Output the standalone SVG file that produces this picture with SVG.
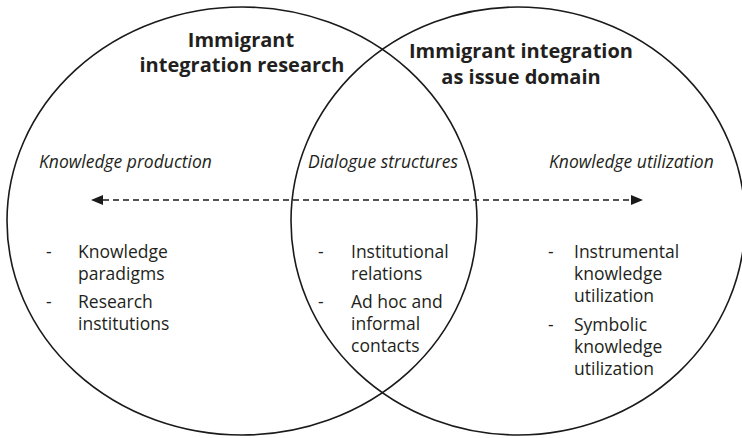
<svg xmlns="http://www.w3.org/2000/svg" width="742" height="438" viewBox="0 0 742 438">
<style>
.ring{fill:none;stroke:#1a1a1a;stroke-width:1.6}
.title{font-family:"Open Sans","Liberation Sans",sans-serif;font-weight:bold;font-size:20px;fill:#231f20;text-anchor:middle}
.lab{font-family:"Open Sans","Liberation Sans",sans-serif;font-style:italic;font-size:17.5px;fill:#231f20}
.item{font-family:"Open Sans","Liberation Sans",sans-serif;font-size:17.5px;fill:#231f20}
.conn{fill:none;stroke:#1a1a1a;stroke-width:1.3;stroke-dasharray:6 4}
</style>
<defs>
<marker id="ah" viewBox="0 0 12 10" refX="0" refY="5" markerWidth="12" markerHeight="10" markerUnits="userSpaceOnUse" orient="auto-start-reverse">
<path d="M0,0 L12,5 L0,10 Z" fill="#1a1a1a"/>
</marker>
</defs>
<rect width="742" height="438" fill="#fff"/>
<g id="research">
<ellipse class="ring" cx="242" cy="221" rx="235" ry="214"/>
<text class="title" x="241" y="47">Immigrant</text>
<text class="title" x="242" y="72">integration research</text>
</g>
<g id="domain">
<ellipse class="ring" cx="518" cy="221" rx="227" ry="214"/>
<text class="title" x="521" y="58">Immigrant integration</text>
<text class="title" x="521" y="84">as issue domain</text>
</g>
<g id="production">
<text class="lab" x="39" y="168">Knowledge production</text>
<text class="item" x="46" y="258">-</text>
<text class="item" x="78" y="258">Knowledge</text>
<text class="item" x="78" y="280">paradigms</text>
<text class="item" x="46" y="308">-</text>
<text class="item" x="78" y="308">Research</text>
<text class="item" x="78" y="330">institutions</text>
</g>
<g id="dialogue">
<text class="lab" x="308" y="168">Dialogue structures</text>
<text class="item" x="318" y="258">-</text>
<text class="item" x="351" y="258">Institutional</text>
<text class="item" x="351" y="280">relations</text>
<text class="item" x="318" y="308">-</text>
<text class="item" x="351" y="308">Ad hoc and</text>
<text class="item" x="351" y="330">informal</text>
<text class="item" x="351" y="352">contacts</text>
</g>
<g id="utilization">
<text class="lab" x="549" y="168">Knowledge utilization</text>
<text class="item" x="548" y="258">-</text>
<text class="item" x="574" y="258">Instrumental</text>
<text class="item" x="574" y="280">knowledge</text>
<text class="item" x="574" y="302">utilization</text>
<text class="item" x="548" y="331">-</text>
<text class="item" x="574" y="331">Symbolic</text>
<text class="item" x="574" y="353">knowledge</text>
<text class="item" x="574" y="375">utilization</text>
</g>
<g id="connectors">
<path class="conn" d="M103,200 H631" marker-start="url(#ah)" marker-end="url(#ah)"/>
</g>
</svg>
